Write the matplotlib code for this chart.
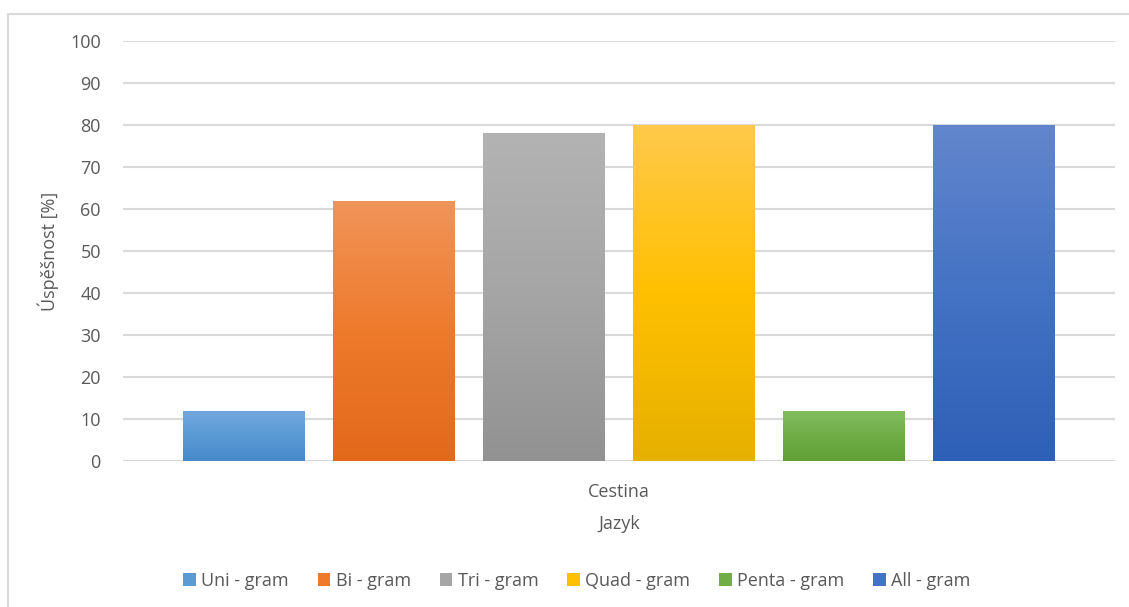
import numpy as np
import matplotlib.pyplot as plt
from matplotlib.colors import LinearSegmentedColormap
from matplotlib.patches import Patch, Rectangle

plt.rcParams['font.family'] = ['Open Sans', 'DejaVu Sans']

# success rate per n-gram model, Czech text
labels = ["Uni - gram", "Bi - gram", "Tri - gram", "Quad - gram", "Penta - gram", "All - gram"]
values = [12, 62, 78, 80, 12, 80]
category = "Cestina"

# (top, middle, bottom) gradient colours for each bar
gradients = [
    ("#73a8de", "#5b9bd5", "#4689ca"),
    ("#f19459", "#ee7a2c", "#e2691a"),
    ("#b3b3b3", "#a5a5a5", "#929292"),
    ("#ffc94c", "#ffc000", "#e6b000"),
    ("#84bd60", "#70ad47", "#61a036"),
    ("#6286cd", "#4472c4", "#2e60b7"),
]

txt = "#595959"
grid = "#d9d9d9"

fig = plt.figure(figsize=(11.29, 6.07), dpi=100)
ax = fig.add_axes([0.109, 0.2405, 0.8786, 0.692])

x = np.arange(len(values))
width = 0.813
bars = ax.bar(x, values, width=width, color="none", zorder=3)

grad = np.linspace(0, 1, 256).reshape(-1, 1)
for bar, cols in zip(bars, gradients):
    cmap = LinearSegmentedColormap.from_list("g", list(cols))
    x0, y0 = bar.get_x(), bar.get_y()
    w, h = bar.get_width(), bar.get_height()
    # row 0 (top colour) goes to the top of the bar
    im = ax.imshow(grad, cmap=cmap, extent=[x0, x0 + w, y0, y0 + h],
                   aspect="auto", origin="upper", zorder=3, interpolation="bicubic")
    im.set_clip_path(bar)

ax.set_xlim(-0.807, 5.807)
ax.set_ylim(0, 100)
ax.set_yticks(np.arange(0, 101, 10))
ax.set_xticks([2.5])
ax.set_xticklabels([category])
ax.yaxis.grid(True, color=grid, linewidth=1.5, zorder=0)
ax.set_axisbelow(True)
for s in ax.spines.values():
    s.set_visible(False)
ax.axhline(0, color=grid, linewidth=1.5, zorder=1)
ax.tick_params(length=0, labelsize=13, colors=txt)
ax.tick_params(axis="y", pad=16)
ax.tick_params(axis="x", pad=16)
ax.set_ylabel("Úspěšnost [%]", fontsize=13, color=txt, labelpad=8)
ax.set_xlabel("Jazyk", fontsize=13, color=txt, labelpad=10)

handles = [Patch(facecolor=c[1], label=l) for c, l in zip(gradients, labels)]
fig.legend(handles=handles, loc="center", bbox_to_anchor=(0.511, 0.043), ncol=6,
           frameon=False, fontsize=13, labelcolor=txt, handlelength=0.7,
           handleheight=0.7, handletextpad=0.3, columnspacing=1.6)

fig.add_artist(Rectangle((0.007, -0.01), 1.1, 0.987, transform=fig.transFigure,
                         fill=False, edgecolor=grid, linewidth=1.5))

fig.savefig("out.png")
